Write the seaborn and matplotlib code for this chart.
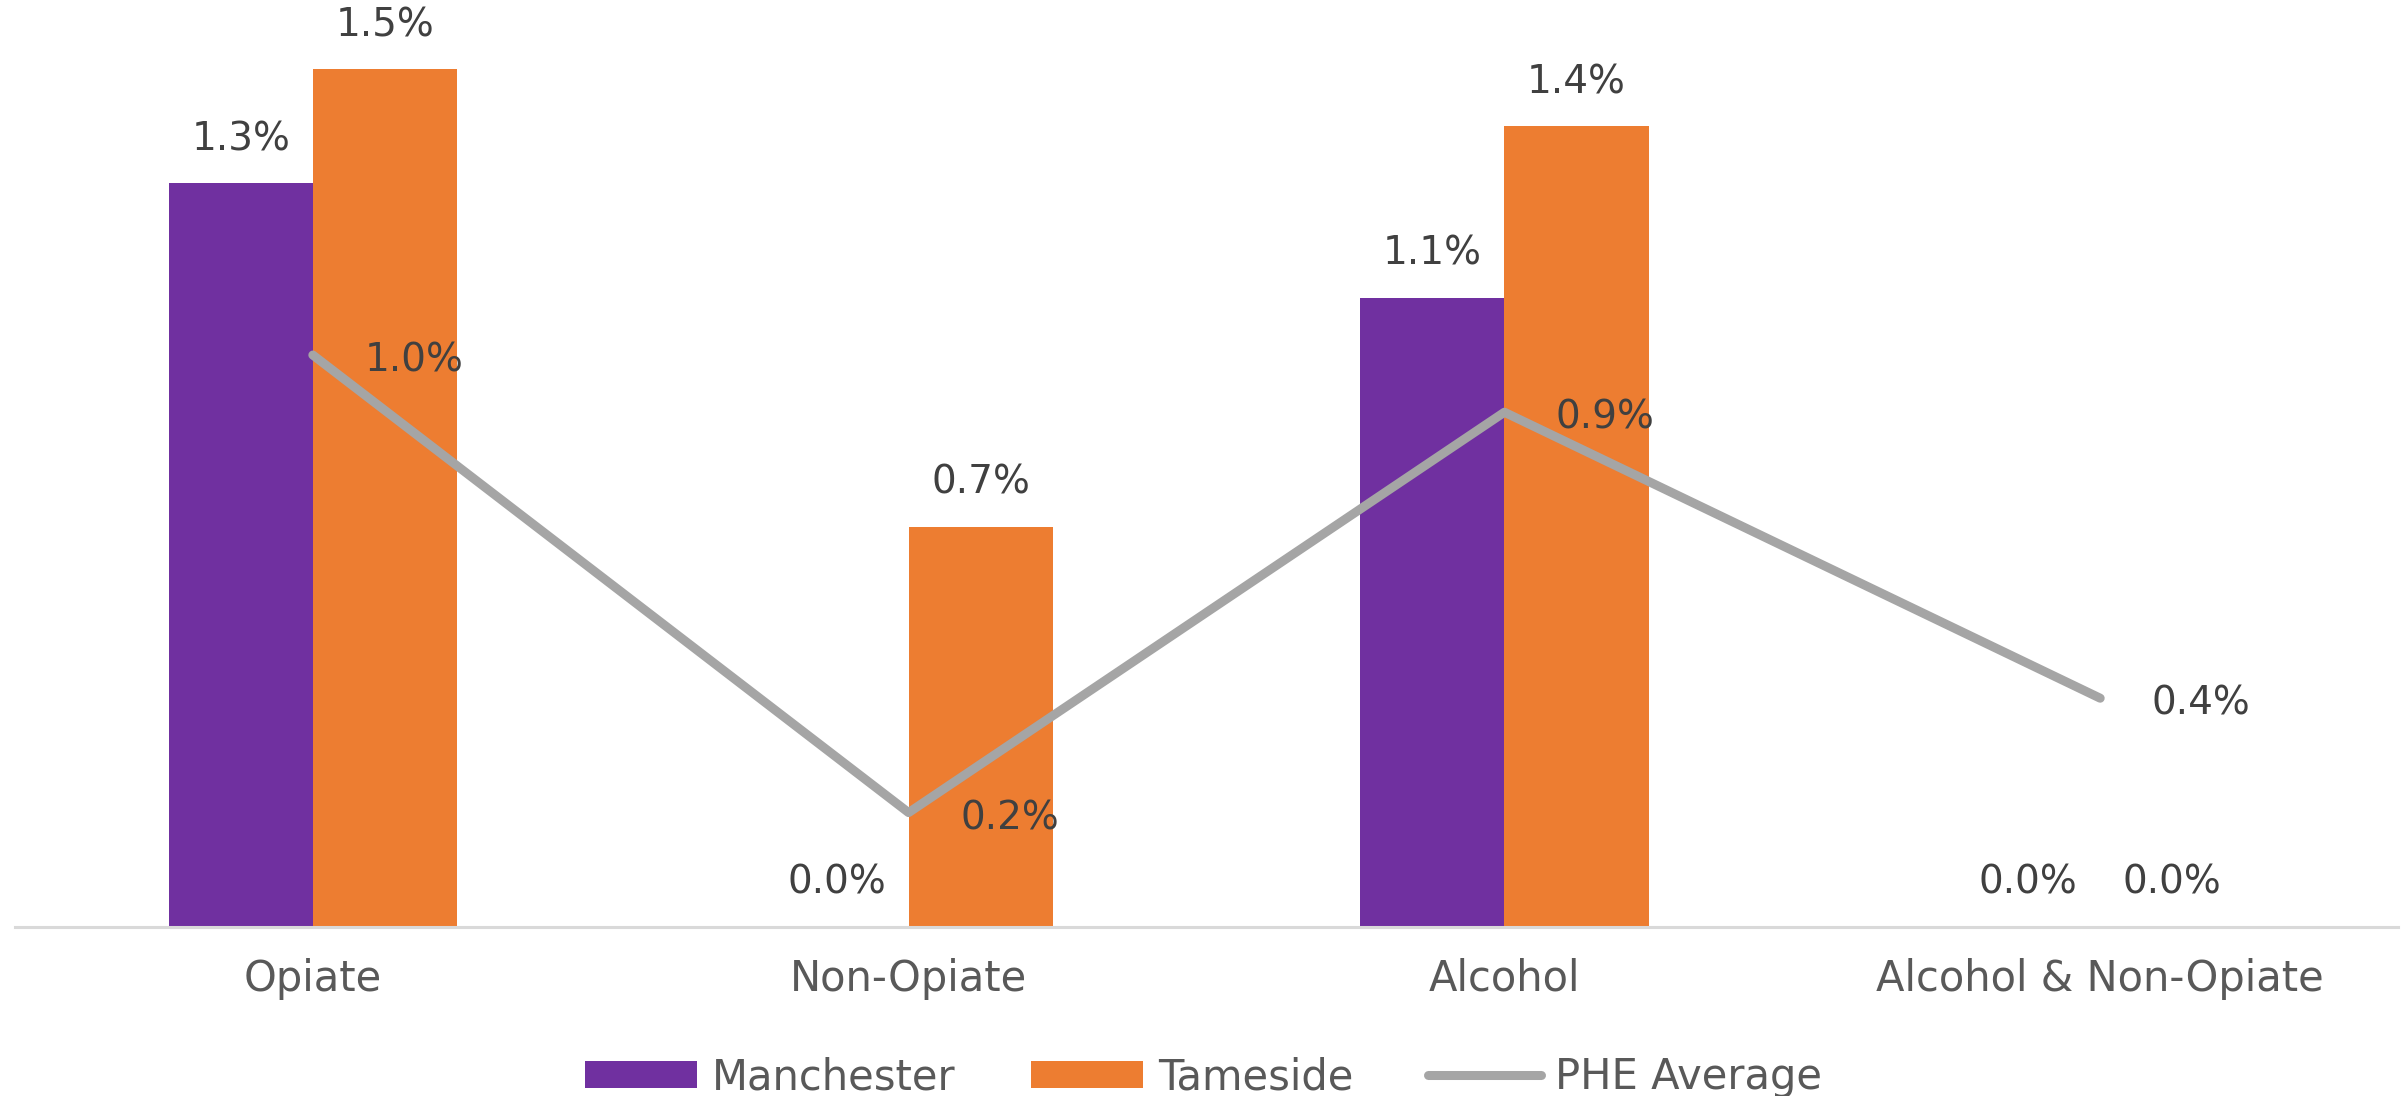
import matplotlib
matplotlib.use("Agg")
import matplotlib.pyplot as plt
import seaborn as sns
import pandas as pd

categories = ["Opiate", "Non-Opiate", "Alcohol", "Alcohol & Non-Opiate"]
manchester = [1.3, 0.0, 1.1, 0.0]
tameside = [1.5, 0.7, 1.4, 0.0]
phe_average = [1.0, 0.2, 0.9, 0.4]
series_names = ["Manchester", "Tameside"]

PURPLE = "#7030A0"
ORANGE = "#ED7D31"
GREY = "#A5A5A5"

sns.set_style("white")
plt.rcParams["font.family"] = ["DejaVu Sans"]

df = pd.DataFrame({
    "category": categories * 2,
    "value": manchester + tameside,
    "series": [series_names[0]] * len(categories) + [series_names[1]] * len(categories),
})

fig = plt.figure(figsize=(24.07, 10.96), dpi=100)
ax = fig.add_axes([0.0062, 0.1542, 0.9901, 0.835])

sns.barplot(data=df, x="category", y="value", hue="series", order=categories,
            hue_order=series_names, palette=[PURPLE, ORANGE], width=0.484,
            saturation=1, linewidth=0, errorbar=None, ax=ax, legend=True)

sns.lineplot(x=categories, y=phe_average, sort=False, color=GREY, linewidth=6.5,
             ax=ax, label="PHE Average", zorder=4)

for cont in ax.containers:
    ax.bar_label(cont, labels=[f"{v:.1f}%" for v in cont.datavalues], padding=18,
                 fontsize=28, color="#404040")

for i, v in enumerate(phe_average):
    ax.annotate(f"{v:.1f}%", xy=(i, v), xytext=(37, -4), textcoords="offset points",
                ha="left", va="center", fontsize=28, color="#404040", zorder=5)

ax.set_xlim(-0.5, 3.5)
ax.set_ylim(0, 1.6)
ax.set_xlabel("")
ax.set_ylabel("")
ax.set_yticks([])
ax.tick_params(axis="x", length=0, pad=22, labelsize=30, labelcolor="#595959")
for s in ["top", "left", "right"]:
    ax.spines[s].set_visible(False)
ax.spines["bottom"].set_color("#D9D9D9")
ax.spines["bottom"].set_linewidth(2.2)

handles, labels = ax.get_legend_handles_labels()
ax.get_legend().remove()
order = [labels.index(n) for n in series_names + ["PHE Average"]]
fig.legend([handles[i] for i in order], [labels[i] for i in order],
           loc="center", bbox_to_anchor=(0.5, 0.0173), ncol=3, frameon=False,
           fontsize=30, labelcolor="#595959", handlelength=2.7, handleheight=0.62,
           handletextpad=0.35, columnspacing=1.8)

fig.savefig("out.png", dpi=100)
